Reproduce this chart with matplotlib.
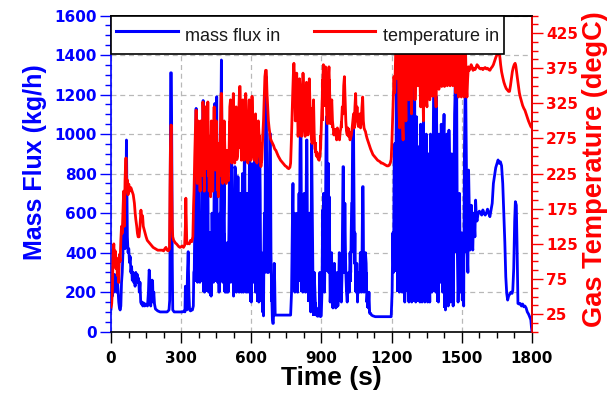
import matplotlib
matplotlib.use("Agg")
import matplotlib.pyplot as plt
import numpy as np
from matplotlib import font_manager
from matplotlib.ticker import MultipleLocator, FixedLocator

# ---- data: (time s, mass flux kg/h) -------------------------------------
flux_readings = [
    (0, 115), (3, 230), (6, 180), (9, 280), (12, 200), (15, 290), (18, 240), (21, 250), (24, 200), (27, 280),
    (30, 210), (33, 150), (36, 120), (39, 110), (42, 130), (45, 250), (48, 300), (51, 400), (54, 520), (57, 480),
    (60, 420), (63, 600), (66, 970), (68, 700), (70, 480), (73, 400), (76, 420), (79, 350), (82, 380), (85, 300),
    (88, 330), (91, 260), (94, 300), (97, 250), (100, 280), (103, 230), (106, 300), (109, 260), (112, 290), (115, 250),
    (118, 270), (121, 200), (124, 250), (127, 150), (130, 140), (133, 150), (136, 130), (140, 145), (144, 130), (148, 140),
    (152, 135), (156, 130), (160, 200), (163, 312), (165, 300), (167, 140), (170, 130), (173, 200), (176, 261), (178, 250),
    (180, 150), (183, 200), (186, 140), (190, 115), (195, 110), (200, 105), (210, 100), (220, 100), (230, 100), (240, 100),
    (248, 110), (251, 160), (253, 600), (255, 1310), (258, 1310), (260, 900), (262, 350), (264, 110), (270, 100), (280, 100),
    (290, 100), (300, 100), (306, 100), (312, 105), (316, 100), (318, 230), (321, 220), (324, 110), (327, 300), (330, 405),
    (333, 200), (336, 110), (340, 105), (344, 110), (348, 110), (352, 130), (354, 300), (356, 310), (358, 520), (360, 770),
    (362, 500), (364, 1130), (366, 900), (368, 400), (370, 250), (372, 450), (374, 700), (376, 765), (378, 350), (380, 250),
    (382, 500), (384, 600), (386, 350), (388, 450), (390, 900), (392, 1000), (394, 1170), (396, 800), (398, 300), (400, 200),
    (402, 600), (404, 970), (406, 500), (408, 250), (410, 450), (412, 600), (414, 820), (416, 400), (418, 200), (420, 350),
    (422, 500), (424, 300), (426, 500), (428, 180), (430, 400), (432, 600), (434, 450), (436, 300), (438, 250), (440, 600),
    (442, 900), (444, 1155), (446, 700), (448, 300), (450, 680), (452, 1189), (454, 400), (456, 250), (458, 550), (460, 350),
    (462, 200), (464, 450), (466, 600), (468, 300), (470, 1100), (472, 1375), (474, 1000), (476, 400), (478, 250), (480, 500),
    (482, 600), (484, 750), (486, 350), (488, 200), (490, 400), (492, 300), (494, 200), (496, 450), (498, 300), (500, 200),
    (502, 350), (504, 500), (506, 760), (508, 650), (510, 400), (512, 250), (514, 300), (516, 903), (518, 650), (520, 300),
    (522, 500), (524, 180), (526, 400), (528, 500), (530, 835), (532, 820), (534, 400), (536, 200), (538, 300), (540, 500),
    (542, 785), (544, 780), (546, 350), (548, 200), (550, 250), (552, 450), (554, 700), (556, 300), (558, 200), (560, 500),
    (562, 800), (564, 350), (566, 200), (568, 400), (570, 920), (572, 900), (574, 400), (576, 300), (578, 200), (580, 500),
    (582, 700), (584, 400), (586, 200), (588, 280), (590, 500), (592, 903), (594, 450), (596, 200), (598, 300), (600, 150),
    (602, 500), (604, 850), (606, 600), (608, 300), (610, 250), (612, 500), (614, 903), (616, 400), (618, 200), (620, 300),
    (622, 600), (624, 870), (626, 400), (628, 200), (630, 300), (632, 150), (634, 500), (636, 935), (638, 700), (640, 300),
    (642, 200), (644, 400), (646, 200), (648, 100), (650, 300), (652, 80), (654, 400), (656, 600), (658, 300), (660, 900),
    (662, 1290), (664, 1290), (666, 700), (668, 300), (670, 500), (672, 800), (674, 300), (676, 600), (678, 900), (680, 1004),
    (682, 900), (684, 400), (686, 250), (688, 150), (690, 60), (692, 42), (694, 42), (696, 150), (698, 346), (700, 250),
    (702, 84), (710, 84), (720, 84), (730, 84), (740, 84), (750, 84), (760, 84), (768, 84), (772, 200), (774, 400),
    (776, 600), (778, 750), (780, 500), (782, 600), (784, 300), (786, 200), (788, 350), (790, 450), (792, 599), (794, 450),
    (796, 300), (798, 200), (800, 400), (802, 550), (804, 700), (806, 500), (808, 900), (810, 1071), (812, 1071), (814, 600),
    (816, 400), (818, 300), (820, 200), (822, 400), (824, 500), (826, 700), (828, 500), (830, 350), (832, 200), (834, 600),
    (836, 970), (838, 970), (840, 400), (842, 300), (844, 200), (846, 300), (848, 600), (850, 400), (852, 150), (854, 100),
    (856, 500), (858, 953), (860, 700), (862, 400), (864, 200), (866, 120), (869, 300), (872, 200), (875, 100), (878, 90),
    (881, 80), (884, 78), (887, 120), (890, 80), (893, 300), (896, 76), (899, 80), (902, 200), (905, 616), (907, 400),
    (909, 700), (911, 500), (913, 200), (915, 400), (917, 600), (919, 900), (921, 1088), (923, 1088), (925, 500), (927, 700),
    (929, 852), (931, 300), (933, 683), (935, 400), (937, 150), (940, 250), (943, 400), (946, 150), (949, 120), (952, 200),
    (955, 346), (958, 150), (961, 120), (964, 200), (967, 300), (970, 130), (973, 200), (976, 400), (979, 300), (982, 200),
    (985, 150), (988, 300), (990, 600), (992, 835), (994, 835), (996, 300), (998, 400), (1000, 650), (1002, 450), (1004, 300),
    (1007, 200), (1010, 150), (1013, 250), (1016, 300), (1019, 200), (1022, 400), (1025, 300), (1027, 500), (1029, 650), (1031, 650),
    (1033, 987), (1035, 1037), (1037, 1037), (1039, 700), (1041, 346), (1043, 500), (1045, 300), (1048, 200), (1051, 346), (1054, 150),
    (1057, 300), (1060, 250), (1063, 200), (1066, 400), (1069, 300), (1072, 200), (1074, 500), (1076, 734), (1078, 734), (1080, 300),
    (1082, 200), (1085, 250), (1088, 400), (1091, 346), (1094, 150), (1097, 200), (1100, 120), (1103, 200), (1106, 93), (1110, 93),
    (1114, 84), (1120, 80), (1130, 76), (1140, 76), (1150, 76), (1160, 76), (1170, 76), (1180, 76), (1190, 76), (1198, 76),
    (1202, 200), (1205, 500), (1208, 300), (1211, 903), (1214, 953), (1217, 600), (1220, 1200), (1223, 1500), (1226, 1600), (1228, 1600),
    (1230, 600), (1233, 200), (1236, 1088), (1239, 1000), (1242, 300), (1245, 200), (1248, 1020), (1251, 1409), (1253, 600), (1256, 150),
    (1259, 300), (1262, 1200), (1265, 1550), (1268, 1000), (1271, 200), (1274, 150), (1277, 900), (1280, 1300), (1283, 500), (1286, 150),
    (1289, 1121), (1292, 1450), (1295, 1600), (1298, 1600), (1300, 400), (1303, 150), (1306, 1088), (1309, 700), (1312, 200), (1315, 936),
    (1318, 300), (1321, 150), (1324, 1050), (1327, 400), (1330, 150), (1333, 900), (1336, 1088), (1339, 300), (1342, 150), (1345, 800),
    (1348, 1000), (1351, 250), (1354, 150), (1357, 900), (1360, 400), (1363, 150), (1366, 1000), (1369, 600), (1372, 200), (1375, 900),
    (1378, 1000), (1381, 1500), (1384, 1600), (1386, 800), (1389, 200), (1391, 1189), (1394, 900), (1397, 300), (1400, 150), (1403, 1000),
    (1406, 700), (1409, 250), (1412, 1050), (1415, 600), (1418, 200), (1421, 900), (1424, 1100), (1427, 300), (1430, 110), (1433, 800),
    (1436, 1000), (1439, 400), (1442, 130), (1445, 1020), (1448, 800), (1451, 150), (1454, 600), (1457, 900), (1460, 300), (1463, 130),
    (1466, 700), (1469, 1100), (1472, 1240), (1475, 800), (1478, 1240), (1481, 400), (1484, 150), (1487, 300), (1490, 700), (1493, 400),
    (1496, 200), (1499, 500), (1502, 160), (1505, 300), (1508, 130), (1511, 900), (1514, 1189), (1517, 1189), (1520, 800), (1523, 400),
    (1526, 300), (1529, 818), (1532, 600), (1535, 413), (1538, 565), (1541, 640), (1544, 447), (1547, 413), (1550, 600), (1553, 560),
    (1556, 480), (1559, 666), (1562, 582), (1565, 560), (1570, 600), (1575, 610), (1580, 600), (1585, 590), (1590, 616), (1595, 600),
    (1600, 590), (1605, 600), (1610, 620), (1615, 600), (1620, 582), (1625, 616), (1630, 650), (1635, 750), (1640, 790), (1645, 830),
    (1650, 850), (1655, 869), (1660, 852), (1665, 860), (1670, 840), (1675, 750), (1680, 582), (1684, 450), (1688, 278), (1692, 194),
    (1696, 160), (1700, 180), (1705, 190), (1710, 200), (1715, 194), (1718, 210), (1722, 320), (1726, 560), (1729, 658), (1733, 640),
    (1736, 450), (1740, 143), (1745, 140), (1750, 143), (1755, 130), (1760, 140), (1765, 126), (1770, 130), (1775, 120), (1780, 100),
    (1785, 90), (1790, 76), (1795, 60), (1798, 20), (1800, 0),
]

# min/max of the fast mass-flux fluctuations in 10 s windows: (time s, low, high)
flux_band = [
    (355, 250, 300), (365, 250, 500), (375, 250, 600), (385, 250, 500), (395, 200, 500), (405, 200, 450),
    (415, 200, 500), (425, 180, 450), (435, 250, 450), (445, 250, 600), (455, 250, 500), (465, 200, 450),
    (475, 250, 550), (485, 200, 500), (495, 200, 400), (505, 200, 450), (515, 250, 500), (525, 180, 450),
    (535, 200, 500), (545, 200, 450), (555, 200, 450), (565, 200, 500), (575, 200, 450), (585, 200, 450),
    (595, 150, 450), (605, 250, 500), (615, 200, 450), (625, 150, 400), (635, 150, 400), (645, 100, 300),
    (655, 80, 400), (665, 300, 600), (675, 300, 700), (685, 150, 400), (695, 42, 200),
    (775, 300, 500), (785, 200, 450), (795, 200, 400), (805, 250, 500), (815, 200, 500), (825, 200, 450),
    (835, 200, 500), (845, 150, 400), (855, 100, 300), (865, 80, 200), (875, 80, 150), (885, 78, 120),
    (895, 76, 200), (905, 200, 450), (915, 300, 600), (925, 300, 600), (935, 150, 450), (945, 120, 300),
    (955, 120, 300), (965, 120, 250), (975, 150, 300), (985, 150, 300), (995, 300, 500), (1005, 200, 400),
    (1015, 200, 300), (1025, 250, 400), (1035, 400, 800), (1045, 200, 350), (1055, 150, 300), (1065, 200, 350),
    (1075, 250, 450), (1085, 200, 350), (1095, 120, 300), (1105, 93, 150),
    (1205, 300, 500), (1215, 300, 800), (1225, 200, 900), (1235, 200, 800), (1245, 200, 800), (1255, 150, 900),
    (1265, 200, 900), (1275, 150, 800), (1285, 150, 900), (1295, 150, 900), (1305, 150, 900), (1315, 150, 800),
    (1325, 150, 800), (1335, 150, 900), (1345, 150, 800), (1355, 150, 800), (1365, 150, 800), (1375, 200, 900),
    (1385, 200, 1000), (1395, 150, 900), (1405, 250, 900), (1415, 200, 900), (1425, 120, 800), (1435, 130, 900),
    (1445, 150, 900), (1455, 150, 700), (1465, 130, 700), (1475, 400, 1000), (1485, 150, 500), (1495, 200, 500),
    (1505, 130, 400), (1515, 400, 1000), (1525, 300, 700),
]

# ---- data: (time s, gas temperature degC) -------------------------------
temp_readings = [
    (0, 35), (3, 40), (6, 60), (9, 110), (12, 125), (15, 100), (18, 115), (21, 90), (24, 105), (27, 80),
    (30, 95), (33, 70), (36, 110), (39, 100), (42, 130), (45, 150), (48, 140), (51, 170), (54, 200), (57, 150),
    (60, 215), (63, 247), (65, 247), (67, 200), (70, 216), (73, 195), (76, 210), (80, 200), (85, 205), (90, 200),
    (95, 195), (100, 183), (103, 170), (106, 160), (110, 150), (113, 140), (116, 135), (120, 135), (124, 150), (128, 173),
    (131, 160), (135, 165), (138, 150), (142, 145), (146, 140), (150, 135), (155, 130), (160, 128), (165, 126), (170, 124),
    (175, 122), (180, 120), (185, 119), (190, 118), (195, 117), (200, 116), (210, 116), (220, 116), (225, 115), (230, 118),
    (235, 120), (240, 116), (245, 115), (250, 118), (252, 200), (254, 260), (256, 294), (258, 294), (260, 200), (262, 150),
    (264, 135), (268, 130), (272, 128), (276, 126), (280, 125), (285, 123), (290, 121), (295, 120), (300, 121), (305, 122),
    (310, 120), (315, 123), (318, 150), (320, 190), (322, 160), (324, 126), (327, 125), (330, 126), (335, 125), (340, 130),
    (345, 128), (350, 135), (353, 180), (355, 200), (358, 250), (361, 290), (363, 315), (365, 315), (367, 240), (369, 211),
    (371, 260), (373, 300), (375, 280), (378, 230), (381, 200), (384, 300), (387, 290), (390, 240), (393, 327), (396, 300),
    (399, 200), (402, 250), (405, 320), (408, 300), (411, 260), (414, 327), (417, 250), (420, 200), (423, 230), (426, 192),
    (429, 300), (432, 250), (435, 200), (438, 280), (441, 320), (444, 260), (447, 230), (450, 300), (453, 258), (456, 210),
    (459, 192), (462, 220), (465, 250), (468, 290), (471, 339), (473, 339), (475, 260), (478, 211), (481, 230), (484, 300),
    (487, 260), (490, 215), (493, 211), (496, 250), (499, 220), (502, 215), (505, 260), (508, 320), (511, 330), (514, 280),
    (517, 240), (520, 300), (523, 339), (526, 260), (529, 240), (532, 300), (535, 320), (538, 245), (541, 250), (544, 280),
    (547, 320), (550, 349), (552, 349), (555, 280), (558, 244), (561, 300), (564, 330), (567, 260), (570, 244), (573, 280),
    (576, 339), (579, 300), (582, 250), (585, 240), (588, 290), (591, 330), (594, 250), (597, 244), (600, 270), (603, 335),
    (606, 300), (609, 250), (612, 244), (615, 280), (618, 310), (621, 250), (624, 240), (627, 260), (630, 300), (634, 270),
    (637, 250), (641, 235), (645, 245), (649, 280), (652, 300), (655, 330), (658, 363), (661, 372), (664, 372), (667, 340),
    (670, 320), (673, 300), (676, 290), (679, 282), (682, 275), (685, 272), (688, 270), (691, 268), (695, 265), (700, 260),
    (705, 258), (710, 254), (715, 250), (720, 247), (725, 244), (730, 242), (735, 240), (740, 238), (745, 236), (750, 235),
    (755, 233), (760, 232), (765, 234), (768, 240), (771, 270), (774, 306), (777, 340), (780, 370), (782, 382), (785, 360),
    (788, 300), (791, 330), (794, 368), (797, 320), (800, 278), (803, 300), (806, 360), (809, 349), (812, 300), (815, 278),
    (818, 320), (821, 368), (824, 340), (827, 290), (830, 278), (833, 340), (836, 355), (839, 300), (842, 280), (845, 310),
    (848, 360), (851, 320), (854, 290), (857, 275), (860, 268), (863, 300), (866, 330), (869, 280), (872, 260), (875, 260),
    (878, 250), (881, 255), (884, 248), (887, 245), (890, 244), (893, 250), (896, 260), (899, 290), (902, 320), (905, 350),
    (908, 380), (911, 360), (914, 330), (917, 377), (920, 340), (923, 300), (926, 296), (929, 360), (932, 377), (935, 340),
    (938, 296), (941, 320), (944, 330), (947, 300), (950, 290), (953, 280), (956, 287), (959, 285), (962, 280), (965, 273),
    (968, 290), (971, 275), (974, 280), (977, 273), (980, 285), (983, 290), (986, 300), (989, 320), (992, 310), (995, 350),
    (998, 363), (1001, 330), (1004, 300), (1007, 285), (1010, 280), (1013, 290), (1016, 278), (1019, 280), (1022, 273), (1025, 276),
    (1028, 280), (1031, 290), (1034, 300), (1037, 310), (1040, 290), (1043, 320), (1046, 339), (1049, 300), (1052, 320), (1055, 296),
    (1058, 292), (1061, 300), (1064, 310), (1067, 290), (1070, 300), (1073, 320), (1076, 334), (1079, 300), (1082, 290), (1085, 287),
    (1088, 285), (1091, 280), (1095, 275), (1100, 270), (1105, 265), (1110, 260), (1115, 256), (1120, 252), (1125, 250), (1130, 248),
    (1135, 246), (1140, 244), (1145, 243), (1150, 242), (1155, 240), (1160, 240), (1165, 239), (1170, 238), (1175, 237), (1180, 236),
    (1185, 236), (1190, 237), (1194, 240), (1198, 245), (1201, 270), (1204, 300), (1207, 330), (1210, 363), (1213, 340), (1216, 380),
    (1219, 420), (1222, 400), (1225, 360), (1228, 430), (1231, 320), (1234, 290), (1237, 350), (1240, 410), (1243, 380), (1246, 300),
    (1249, 273), (1252, 380), (1255, 430), (1258, 350), (1261, 300), (1264, 410), (1267, 440), (1270, 380), (1273, 330), (1276, 400),
    (1279, 430), (1282, 360), (1285, 310), (1288, 370), (1291, 420), (1294, 440), (1297, 380), (1300, 330), (1303, 360), (1306, 420),
    (1309, 380), (1312, 350), (1315, 410), (1318, 430), (1321, 360), (1324, 320), (1327, 400), (1330, 420), (1333, 350), (1336, 300),
    (1339, 380), (1342, 430), (1345, 400), (1348, 330), (1351, 320), (1354, 390), (1357, 420), (1360, 360), (1363, 330), (1366, 410),
    (1369, 440), (1372, 380), (1375, 335), (1378, 400), (1381, 430), (1384, 410), (1387, 340), (1390, 320), (1393, 400), (1396, 430),
    (1399, 390), (1402, 345), (1405, 410), (1408, 440), (1411, 380), (1414, 349), (1417, 400), (1420, 430), (1423, 370), (1426, 349),
    (1429, 410), (1432, 430), (1435, 380), (1438, 350), (1441, 420), (1444, 440), (1447, 370), (1450, 350), (1453, 410), (1456, 430),
    (1459, 380), (1462, 350), (1465, 400), (1468, 430), (1471, 380), (1474, 340), (1477, 420), (1480, 435), (1483, 380), (1486, 334),
    (1489, 400), (1492, 430), (1495, 370), (1498, 334), (1501, 380), (1504, 410), (1507, 340), (1510, 334), (1513, 380), (1516, 400),
    (1519, 350), (1522, 334), (1525, 360), (1528, 377), (1532, 372), (1536, 375), (1540, 380), (1544, 377), (1548, 372), (1552, 375),
    (1556, 373), (1560, 375), (1565, 380), (1570, 378), (1575, 375), (1580, 374), (1585, 375), (1590, 373), (1595, 375), (1600, 376),
    (1605, 374), (1610, 375), (1615, 373), (1620, 372), (1625, 375), (1630, 377), (1635, 380), (1640, 385), (1645, 390), (1650, 394),
    (1655, 396), (1660, 396), (1663, 390), (1666, 380), (1670, 370), (1675, 362), (1680, 355), (1685, 350), (1690, 346), (1695, 344),
    (1700, 342), (1704, 342), (1708, 350), (1712, 360), (1716, 370), (1720, 376), (1724, 380), (1728, 382), (1731, 378), (1734, 370),
    (1738, 360), (1742, 350), (1746, 340), (1750, 334), (1755, 328), (1760, 322), (1765, 318), (1770, 315), (1775, 310), (1780, 305),
    (1785, 300), (1790, 296), (1795, 292), (1800, 290),
]

# min/max of the fast temperature fluctuations in 10 s windows: (time s, low, high)
temp_band = [
    (365, 230, 290), (375, 220, 290), (385, 220, 290), (395, 220, 300), (405, 230, 300), (415, 220, 300),
    (425, 200, 280), (435, 210, 290), (445, 230, 300), (455, 200, 270), (465, 220, 290), (475, 220, 300),
    (485, 230, 290), (495, 215, 260), (505, 230, 300), (515, 250, 310), (525, 250, 310), (535, 250, 310),
    (545, 260, 320), (555, 260, 320), (565, 260, 320), (575, 270, 320), (585, 250, 300), (595, 250, 310),
    (605, 260, 310), (615, 250, 300), (625, 250, 290), (635, 250, 280), (645, 240, 270), (655, 290, 330),
    (785, 300, 360), (795, 300, 350), (805, 300, 350), (815, 290, 350), (825, 290, 340), (835, 290, 340),
    (845, 290, 340), (855, 280, 320), (865, 270, 310), (875, 255, 270), (885, 245, 255), (895, 250, 280),
    (905, 300, 360), (915, 320, 370), (925, 300, 360), (935, 300, 360), (945, 290, 320), (955, 280, 290),
    (965, 275, 285), (975, 275, 285), (985, 290, 300), (995, 310, 350), (1005, 285, 310), (1015, 280, 290),
    (1025, 275, 285), (1035, 295, 310), (1045, 300, 330), (1055, 295, 310), (1065, 295, 310), (1075, 300, 330),
    (1085, 285, 290),
    (1215, 370, 420), (1225, 360, 430), (1235, 360, 420), (1245, 350, 420), (1255, 370, 440),
    (1265, 370, 440), (1275, 375, 440), (1285, 365, 440), (1295, 375, 440), (1305, 370, 440), (1315, 375, 440),
    (1325, 365, 440), (1335, 360, 440), (1345, 375, 440), (1355, 370, 440), (1365, 375, 440), (1375, 380, 440),
    (1385, 380, 440), (1395, 380, 440), (1405, 385, 440), (1415, 385, 440), (1425, 385, 440), (1435, 385, 440),
    (1445, 385, 440), (1455, 385, 440), (1465, 385, 440), (1475, 380, 440), (1485, 375, 440), (1495, 375, 440),
    (1505, 370, 420), (1515, 365, 410),
]

flux_ticks = [0, 200, 400, 600, 800, 1000, 1200, 1400, 1600]
temp_ticks = [25, 75, 125, 175, 225, 275, 325, 375, 425]
time_ticks = [0, 300, 600, 900, 1200, 1500, 1800]

BLUE = "#0000ff"
RED = "#ff0000"


def band_segments(band):
    """Split (t, low, high) windows into runs of consecutive 10 s windows."""
    runs, cur = [], [band[0]]
    for row in band[1:]:
        if row[0] - cur[-1][0] > 10:
            runs.append(cur)
            cur = []
        cur.append(row)
    runs.append(cur)
    return [tuple(np.array(c) for c in zip(*run)) for run in runs]


fig = plt.figure(figsize=(6.15, 3.98), dpi=100)
ax = fig.add_axes([0.1805, 0.1666, 0.6845, 0.7944])
ax2 = ax.twinx()

flux_time, flux_kgh = zip(*flux_readings)
temp_time, temp_degc = zip(*temp_readings)

for t, lo, hi in band_segments(flux_band):
    ax.fill_between(t, lo, hi, step="mid", facecolor=BLUE, edgecolor="none", zorder=2.5)
ax.plot(flux_time, flux_kgh, color=BLUE, lw=2.0, label="mass flux in", zorder=3)
for t, lo, hi in band_segments(temp_band):
    ax2.fill_between(t, lo, hi, step="mid", facecolor=RED, edgecolor="none", zorder=2.5)
ax2.plot(temp_time, temp_degc, color=RED, lw=2.0, label="temperature in", zorder=3)

ax.set_xlim(0, 1800)
ax.set_ylim(0, 1600)
ax2.set_ylim(0, 450)

ax.xaxis.set_major_locator(FixedLocator(time_ticks))
ax.xaxis.set_minor_locator(MultipleLocator(75))
ax.yaxis.set_major_locator(FixedLocator(flux_ticks))
ax.yaxis.set_minor_locator(MultipleLocator(50))
ax2.yaxis.set_major_locator(FixedLocator(temp_ticks))
ax2.yaxis.set_minor_locator(MultipleLocator(12.5))

tick_fp = font_manager.FontProperties(family="DejaVu Sans", weight="bold", size=11)
for lab in ax.get_xticklabels():
    lab.set_fontproperties(tick_fp)
for lab in ax.get_yticklabels():
    lab.set_fontproperties(tick_fp)
    lab.set_color(BLUE)
for lab in ax2.get_yticklabels():
    lab.set_fontproperties(tick_fp)
    lab.set_color(RED)

ax.tick_params(axis="x", which="major", length=8, width=1, color="black", pad=6)
ax.tick_params(axis="x", which="minor", length=4.5, width=1, color="black")
ax.tick_params(axis="y", which="major", length=8, width=1, color=BLUE, pad=2)
ax.tick_params(axis="y", which="minor", length=4.5, width=1, color=BLUE)
ax2.tick_params(axis="y", which="major", length=8, width=1, color=RED, pad=2)
ax2.tick_params(axis="y", which="minor", length=4.5, width=1, color=RED)

# dashed grid at the major ticks
ax.grid(True, which="major", color="#b8b8b8", linestyle=(0, (4, 3)), lw=0.9, zorder=0)

ax.spines["left"].set_color(BLUE)
ax.spines["bottom"].set_color("black")
ax.spines["top"].set_color("black")
ax2.spines["right"].set_color(RED)
ax2.spines["left"].set_visible(False)
ax2.spines["bottom"].set_visible(False)
ax2.spines["top"].set_color("black")
for sp in list(ax.spines.values()) + list(ax2.spines.values()):
    sp.set_linewidth(1.2)

title_family = "Liberation Sans"
ylab = ax.set_ylabel("Mass Flux (kg/h)", family=title_family, weight="bold", size=18, color=BLUE)
rlab = ax2.set_ylabel("Gas Temperature (degC)", family=title_family, weight="bold", size=18, color=RED)
xlab = ax.set_xlabel("Time (s)", family=title_family, weight="bold", size=19)
ax.yaxis.set_label_coords(-0.152, 0.535)
ax2.yaxis.set_label_coords(1.119, 0.515)
ax.xaxis.set_label_coords(0.524, -0.108)

# scale the vertical axis titles so their run length fits the span they cover (pixels)
fig.canvas.draw()
renderer = fig.canvas.get_renderer()
for lab, span in [(ylab, 196), (rlab, 316)]:
    bb = lab.get_window_extent(renderer)
    lab.set_fontsize(min(lab.get_fontsize() * span / bb.height, 24))

h1, l1 = ax.get_legend_handles_labels()
h2, l2 = ax2.get_legend_handles_labels()
leg = ax2.legend(h1 + h2, l1 + l2, loc="upper left", bbox_to_anchor=(0.0, 1.0, 0.934, 0.0),
                 mode="expand", ncol=2, frameon=True, fancybox=False, framealpha=1,
                 edgecolor="black", borderaxespad=0, borderpad=0.3, handlelength=3.4,
                 handleheight=2.0, handletextpad=0.4,
                 prop=font_manager.FontProperties(family="Liberation Sans", size=13))
leg.get_frame().set_linewidth(1.2)
for line in leg.get_lines():
    line.set_linewidth(2.2)
for txt in leg.get_texts():
    txt.set_color("#1a1a1a")

fig.savefig("out.png", dpi=100)
